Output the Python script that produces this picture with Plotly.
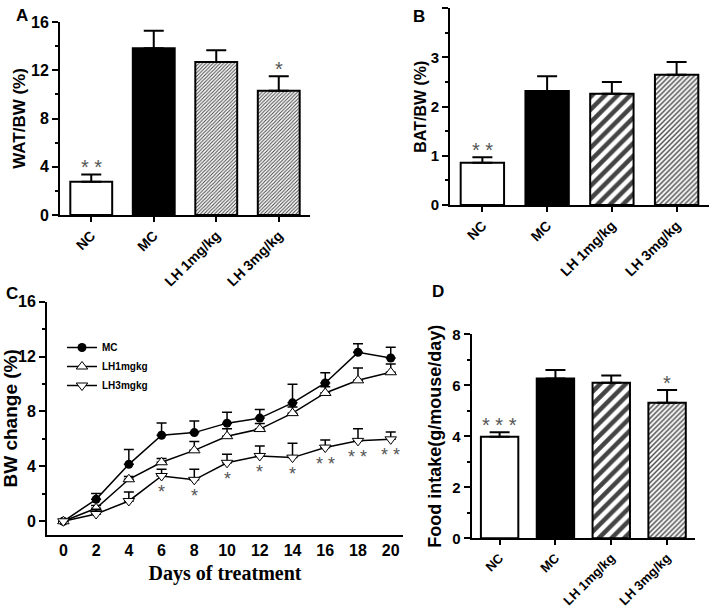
import plotly.graph_objects as go

# ---- data ----
groups = ["NC", "MC", "LH 1mg/kg", "LH 3mg/kg"]

wat_mean = [2.76, 13.82, 12.69, 10.3]
wat_err = [0.6, 1.46, 0.97, 1.2]
wat_sig = ["* *", "", "", "*"]

bat_mean = [0.86, 2.32, 2.26, 2.65]
bat_err = [0.11, 0.3, 0.24, 0.26]
bat_sig = ["* *", "", "", ""]

food_mean = [3.98, 6.27, 6.1, 5.32]
food_err = [0.18, 0.33, 0.28, 0.5]
food_sig = ["* * *", "", "", "*"]

days = [0, 2, 4, 6, 8, 10, 12, 14, 16, 18, 20]
mc_mean = [0, 1.6, 4.15, 6.27, 6.46, 7.15, 7.52, 8.63, 10.08, 12.31, 11.9]
mc_err = [0, 0.43, 1.08, 0.9, 0.85, 0.8, 0.62, 1.35, 0.74, 0.62, 0.78]
lh1_mean = [0, 0.95, 3.06, 4.3, 5.17, 6.2, 6.72, 7.88, 9.35, 10.27, 10.86]
lh1_err = [0, 0.2, 0.2, 0.27, 0.65, 0.55, 0.4, 0.45, 0.45, 0.9, 0.6]
lh3_mean = [0, 0.53, 1.48, 3.3, 3.02, 4.26, 4.76, 4.64, 5.37, 5.86, 5.97]
lh3_err = [0, 0.35, 0.65, 0.5, 0.77, 0.62, 0.72, 1.04, 0.55, 0.88, 0.53]
lh3_sig = ["", "", "", "*", "*", "*", "*", "*", "* *", "* *", "* *"]

FONT = "Liberation Sans, Arial, sans-serif"
STAR = "#555555"


def bar_trace(means, errs, ax, pattern_a):
    # pattern_a: True -> grey fine hatch (panel A), False -> black stripes
    if pattern_a:
        pattern = dict(shape=["", "", "/", "/"],
                       fgcolor=["black", "black", "#909090", "#6e6e6e"],
                       bgcolor=["white", "black", "#e2e2e2", "#b0b0b0"],
                       size=[4, 4, 2.5, 2.5], solidity=[0.3, 0.3, 0.4, 0.4],
                       fgopacity=1)
    else:
        pattern = dict(shape=["", "", "/", "/"],
                       fgcolor=["black", "black", "black", "#1a1a1a"],
                       bgcolor=["white", "black", "white", "white"],
                       size=[9, 9, 9, 3.5], solidity=[0.3, 0.3, 0.5, 0.4],
                       fgopacity=1)
    return go.Bar(
        x=groups, y=means, width=0.67,
        xaxis="x" + ax, yaxis="y" + ax,
        marker=dict(color=["white", "black", "white", "white"],
                    line=dict(color="black", width=2), pattern=pattern),
        error_y=dict(type="data", array=errs, arrayminus=[0] * 4,
                     symmetric=False, color="black", thickness=2, width=10),
        showlegend=False)


fig = go.Figure()
fig.add_trace(bar_trace(wat_mean, wat_err, "", True))
fig.add_trace(bar_trace(bat_mean, bat_err, "2", False))
fig.add_trace(bar_trace(food_mean, food_err, "4", False))

line_style = dict(color="black", width=1.5)
err_style = dict(type="data", symmetric=False, color="black", thickness=1.5, width=5)
fig.add_trace(go.Scatter(
    x=days, y=mc_mean, name="MC", mode="lines+markers", xaxis="x3", yaxis="y3",
    line=line_style, marker=dict(symbol="circle", size=9, color="black"),
    error_y=dict(err_style, array=mc_err, arrayminus=[0] * len(days))))
fig.add_trace(go.Scatter(
    x=days, y=lh1_mean, name="LH1mgkg", mode="lines+markers", xaxis="x3", yaxis="y3",
    line=line_style,
    marker=dict(symbol="triangle-up", size=10, color="white", line=dict(color="black", width=1)),
    error_y=dict(err_style, array=lh1_err, arrayminus=[0] * len(days))))
fig.add_trace(go.Scatter(
    x=days, y=lh3_mean, name="LH3mgkg", mode="lines+markers", xaxis="x3", yaxis="y3",
    line=line_style,
    marker=dict(symbol="triangle-down", size=10, color="white", line=dict(color="black", width=1)),
    error_y=dict(err_style, array=lh3_err, arrayminus=[0] * len(days))))

annotations = []
for ax, means, errs, sig in [("", wat_mean, wat_err, wat_sig),
                             ("2", bat_mean, bat_err, bat_sig),
                             ("4", food_mean, food_err, food_sig)]:
    for g, m, e, s in zip(groups, means, errs, sig):
        if s:
            annotations.append(dict(
                x=g, y=m + e, xref="x" + ax, yref="y" + ax, text=s, showarrow=False,
                yanchor="bottom", yshift=-6, font=dict(family=FONT, size=20, color=STAR)))
for d, m, s in zip(days, lh3_mean, lh3_sig):
    if s:
        annotations.append(dict(
            x=d, y=m, xref="x3", yref="y3", text=s, showarrow=False,
            yanchor="middle", yshift=-16, font=dict(family=FONT, size=18, color=STAR)))

for letter, px, py in [("A", 22, 15), ("B", 419, 16), ("C", 12, 293), ("D", 438, 291)]:
    annotations.append(dict(
        x=px / 711, y=1 - py / 613, xref="paper", yref="paper", text=letter,
        showarrow=False, xanchor="center", yanchor="middle",
        font=dict(family=FONT, size=17, color="black", weight="bold")))


def cat_axis(domain, anchor, fsize=14):
    return dict(domain=domain, anchor=anchor, range=[-0.5, 3.5], showline=True,
                linecolor="black", linewidth=2, ticks="outside", ticklen=5,
                tickwidth=1.5, tickcolor="black", tickangle=-45,
                tickfont=dict(family=FONT, size=fsize, color="black", weight="bold"),
                showgrid=False, zeroline=False, fixedrange=True, automargin=False)


def val_axis(domain, anchor, rng, dtick, title, tsize, standoff, fsize):
    return dict(domain=domain, anchor=anchor, range=rng, dtick=dtick, tick0=0,
                showline=True, linecolor="black", linewidth=2, ticks="outside",
                ticklen=6, tickwidth=1.5, tickcolor="black",
                tickfont=dict(family=FONT, size=fsize, color="black", weight="bold"),
                minor=dict(ticks="outside", ticklen=3, tickwidth=1.5, tickcolor="black",
                           dtick=dtick / 2),
                title=dict(text=title, standoff=standoff,
                           font=dict(family=FONT, size=tsize, color="black", weight="bold")),
                showgrid=False, zeroline=False, fixedrange=True, automargin=False)


fig.update_layout(
    width=711, height=613,
    margin=dict(l=0, r=0, t=0, b=0),
    paper_bgcolor="white", plot_bgcolor="white",
    xaxis=cat_axis([60 / 711, 310 / 711], "y"),
    yaxis=val_axis([1 - 215 / 613, 1 - 22 / 613], "x", [0, 16], 4, "WAT/BW (%)", 17, 1, 16),
    xaxis2=cat_axis([450 / 711, 709 / 711], "y2"),
    yaxis2=val_axis([1 - 205 / 613, 1 - 8.3 / 613], "x2", [0, 4], 1, "BAT/BW (%)", 16, 0, 15),
    xaxis3=dict(domain=[47 / 711, 403 / 711], anchor="y3", range=[-1, 20.75], dtick=2,
                showline=True, linecolor="black", linewidth=2, ticks="",
                tickfont=dict(family=FONT, size=16, color="black", weight="bold"),
                showgrid=False, zeroline=False, fixedrange=True, automargin=False,
                title=dict(text="Days of treatment", standoff=8,
                           font=dict(family="Liberation Serif, Times New Roman, serif",
                                     size=20, color="black", weight="bold"))),
    yaxis3=val_axis([1 - 535 / 613, 1 - 301.7 / 613], "x3", [-1, 16], 4,
                    "BW change (%)", 19, 4, 16),
    xaxis4=cat_axis([471.7 / 711, 695 / 711], "y4", 13),
    yaxis4=val_axis([1 - 538.3 / 613, 1 - 334.3 / 613], "x4", [0, 8], 2,
                    "Food intake(g/mouse/day)", 18, 6, 15),
    legend=dict(x=62 / 711, y=1 - 333 / 613, xanchor="left", yanchor="top",
                bgcolor="rgba(0,0,0,0)", itemwidth=30, tracegroupgap=0,
                font=dict(family=FONT, size=10, color="black", weight="bold")),
    annotations=annotations,
)
fig.layout.yaxis3.tickvals = [0, 4, 8, 12, 16]
fig.layout.yaxis3.minor.tickvals = [2, 6, 10, 14]

# drop the default page margin so the 711x613 figure fills the window exactly
fig.write_html("out.html", config={"displayModeBar": False},
               post_script="document.body.style.margin='0';")
